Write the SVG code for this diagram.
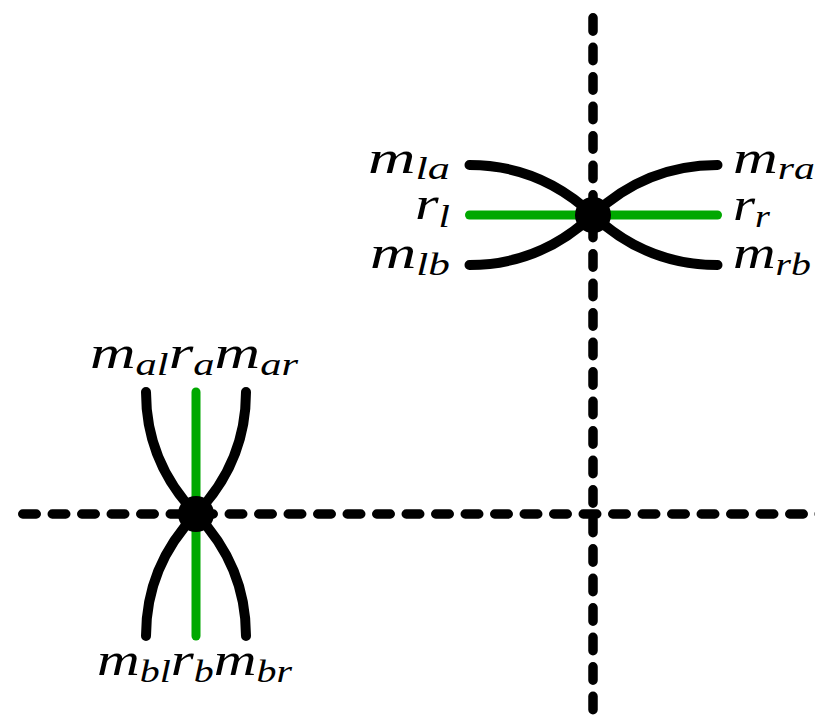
<svg xmlns="http://www.w3.org/2000/svg" width="815" height="717" viewBox="0 0 815 717">
<style>
.axis{fill:none;stroke:#000;stroke-width:9.5;stroke-linecap:round;stroke-dasharray:13.5 16}
.arm{fill:none;stroke:#000;stroke-width:10;stroke-linecap:round}
.rod{fill:none;stroke:#00a800;stroke-width:9;stroke-linecap:round}
text{font-family:'Liberation Serif',serif;font-style:italic;font-size:46px;fill:#000}
tspan.sub{font-size:31px}
</style>
<g id="axes">
<path class="axis" d="M22.75,514 H830"/>
<path class="axis" d="M593,17.75 V730"/>
</g>
<g id="connectors">
<path class="rod" d="M469.5,215 H717.5"/>
<path class="arm" d="M469.5,165 Q540,165 593,215"/>
<path class="arm" d="M469.5,265 Q540,265 593,215"/>
<path class="arm" d="M717.5,165 Q646,165 593,215"/>
<path class="arm" d="M717.5,265 Q646,265 593,215"/>
<path class="rod" d="M196,392 V636"/>
<path class="arm" d="M146,392 Q146,462 196,514"/>
<path class="arm" d="M246,392 Q246,462 196,514"/>
<path class="arm" d="M146,636 Q146,566 196,514"/>
<path class="arm" d="M246,636 Q246,566 196,514"/>
</g>
<g id="node-top">
<circle cx="593" cy="215" r="18"/>
</g>
<g id="node-bottom">
<circle cx="196" cy="514" r="18"/>
</g>
<g id="labels">
<text x="368" y="173" textLength="82" lengthAdjust="spacingAndGlyphs">m<tspan class="sub" dy="6">la</tspan></text>
<text x="415" y="219" textLength="35" lengthAdjust="spacingAndGlyphs">r<tspan class="sub" dy="8">l</tspan></text>
<text x="370" y="268" textLength="80" lengthAdjust="spacingAndGlyphs">m<tspan class="sub" dy="7">lb</tspan></text>
<text x="733" y="173" textLength="82" lengthAdjust="spacingAndGlyphs">m<tspan class="sub" dy="6">ra</tspan></text>
<text x="733" y="220" textLength="37" lengthAdjust="spacingAndGlyphs">r<tspan class="sub" dy="7">r</tspan></text>
<text x="733" y="268" textLength="78" lengthAdjust="spacingAndGlyphs">m<tspan class="sub" dy="7">rb</tspan></text>
<text x="90" y="368" textLength="208" lengthAdjust="spacingAndGlyphs">m<tspan class="sub" dy="7">al</tspan><tspan dy="-7">r</tspan><tspan class="sub" dy="7">a</tspan><tspan dy="-7">m</tspan><tspan class="sub" dy="7">ar</tspan></text>
<text x="97" y="675" textLength="195" lengthAdjust="spacingAndGlyphs">m<tspan class="sub" dy="7">bl</tspan><tspan dy="-7">r</tspan><tspan class="sub" dy="7">b</tspan><tspan dy="-7">m</tspan><tspan class="sub" dy="7">br</tspan></text>
</g>
</svg>
